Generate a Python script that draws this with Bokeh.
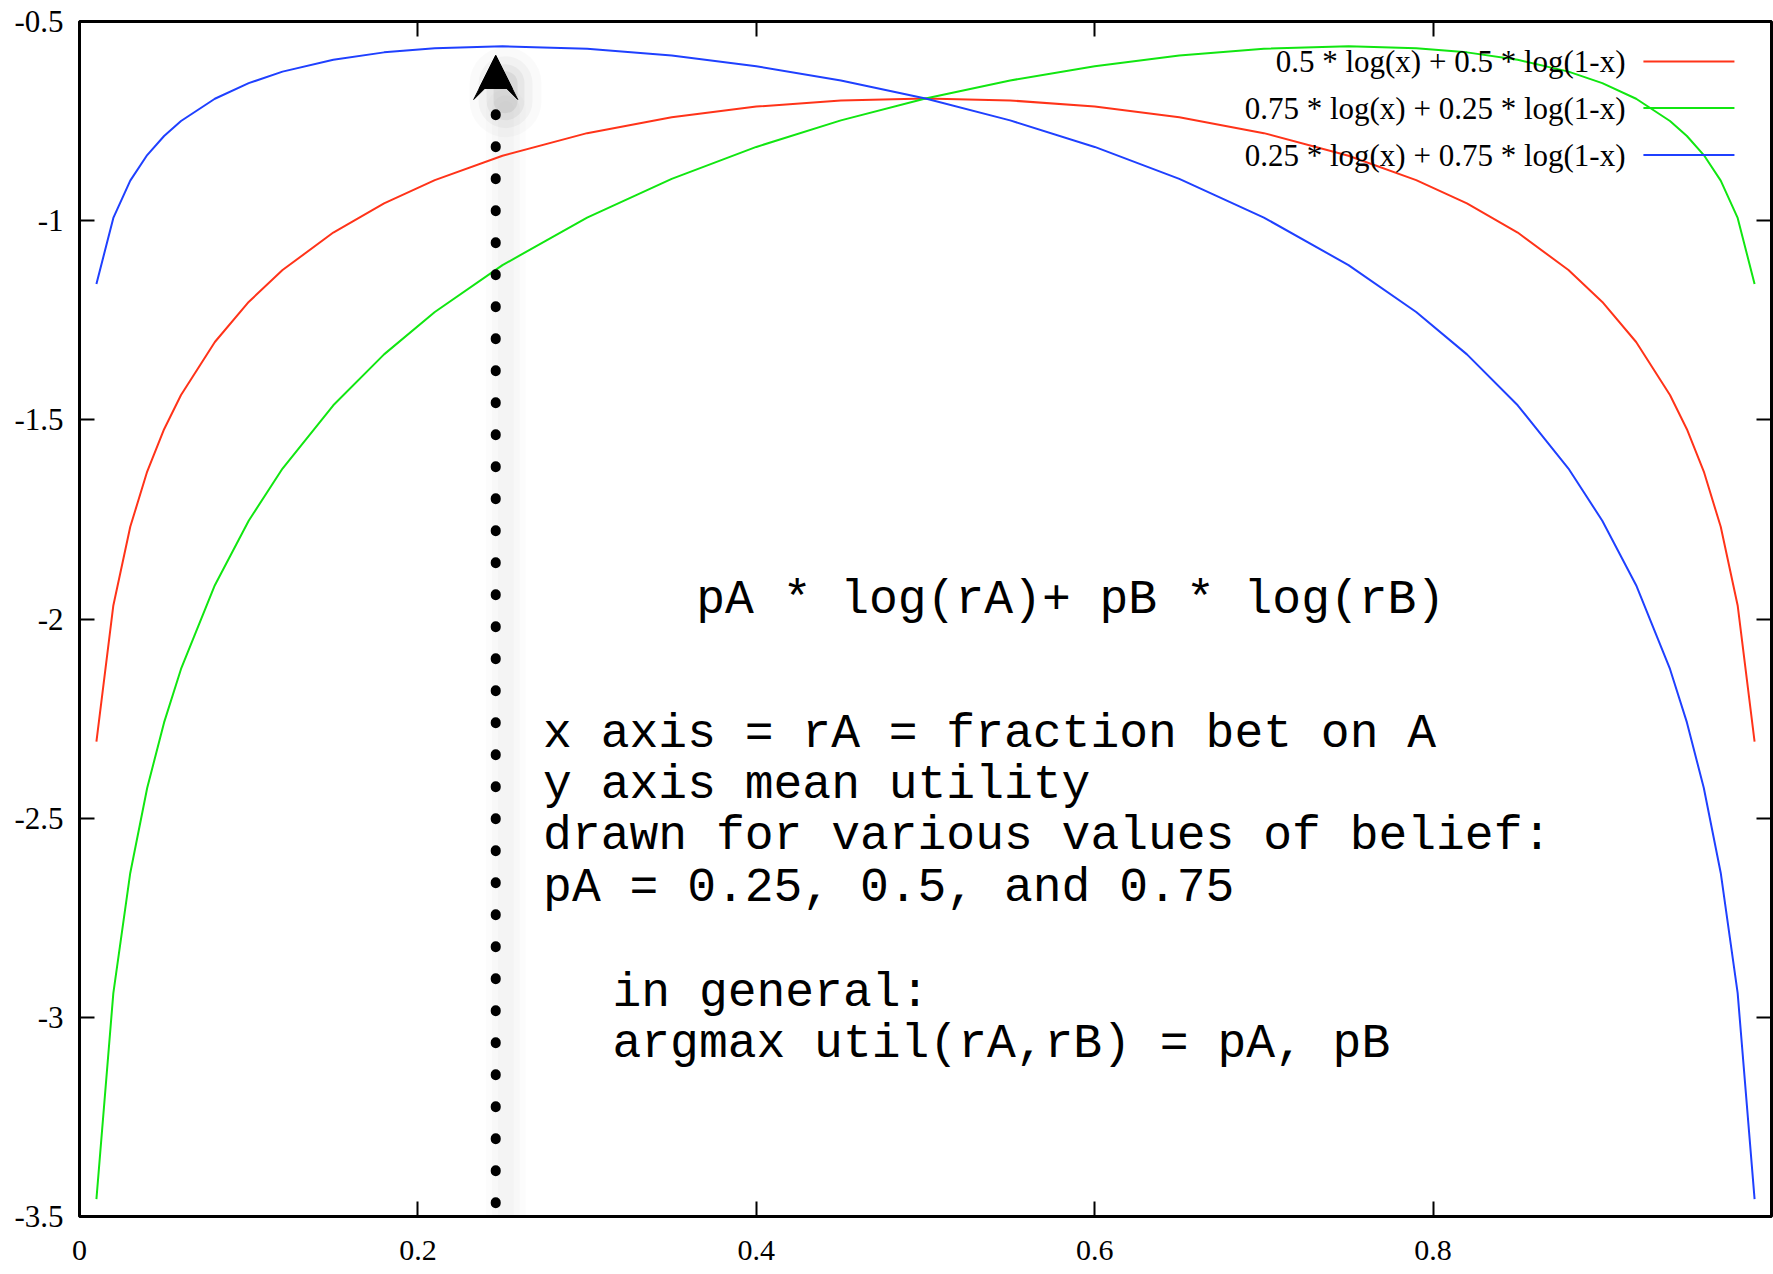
from bokeh.plotting import figure
from bokeh.models import (Range1d, FixedTicker, LinearAxis, Label, Arrow, VeeHead,
                          NormalHead, CustomJSTickFormatter)
from bokeh.embed import file_html
from bokeh.resources import INLINE

# ---- data ----
x_vals = [0.01, 0.02, 0.03, 0.04, 0.05, 0.06, 0.08, 0.10, 0.12, 0.15, 0.18, 0.21,
          0.25, 0.30, 0.35, 0.40, 0.45, 0.50, 0.55, 0.60, 0.65, 0.70, 0.75, 0.79,
          0.82, 0.85, 0.88, 0.90, 0.92, 0.94, 0.95, 0.96, 0.97, 0.98, 0.99]

red_vals = [-2.3076, -1.9661, -1.7685, -1.6299, -1.5235, -1.4376, -1.3046, -1.2040,
            -1.1240, -1.0298, -0.9566, -0.8982, -0.8370, -0.7803, -0.7403, -0.7136,
            -0.6982, -0.6931, -0.6982, -0.7136, -0.7403, -0.7803, -0.8370, -0.8982,
            -0.9566, -1.0298, -1.1240, -1.2040, -1.3046, -1.4376, -1.5235, -1.6299,
            -1.7685, -1.9661, -2.3076]

green_vals = [-3.4564, -2.9391, -2.6375, -2.4244, -2.2596, -2.1255, -1.9152, -1.7533,
              -1.6222, -1.4635, -1.3357, -1.2294, -1.1116, -0.9922, -0.8951, -0.8149,
              -0.7483, -0.6931, -0.6480, -0.6122, -0.5856, -0.5685, -0.5623, -0.5670,
              -0.5775, -0.5962, -0.6259, -0.6547, -0.6940, -0.7498, -0.7874, -0.8353,
              -0.8995, -0.9932, -1.1588]

blue_vals = [-1.1588, -0.9932, -0.8995, -0.8353, -0.7874, -0.7498, -0.6940, -0.6547,
             -0.6259, -0.5962, -0.5775, -0.5670, -0.5623, -0.5685, -0.5856, -0.6122,
             -0.6480, -0.6931, -0.7483, -0.8149, -0.8951, -0.9922, -1.1116, -1.2294,
             -1.3357, -1.4635, -1.6222, -1.7533, -1.9152, -2.1255, -2.2596, -2.4244,
             -2.6375, -2.9391, -3.4564]

series_labels = ["0.5 * log(x) + 0.5 * log(1-x)",
                 "0.75 * log(x) + 0.25 * log(1-x)",
                 "0.25 * log(x) + 0.75 * log(1-x)"]
series_colors = ["#ff3319", "#11e611", "#1f40ff"]

x_ticks = [0, 0.2, 0.4, 0.6, 0.8]
y_ticks = [-3.5, -3, -2.5, -2, -1.5, -1, -0.5]

belief_pA = 0.246           # arrow marks the argmax for pA = 0.25

title_text = "pA * log(rA)+ pB * log(rB)"
block_lines = ["x axis = rA = fraction bet on A",
               "y axis mean utility",
               "drawn for various values of belief:",
               "pA = 0.25, 0.5, and 0.75"]
general_lines = ["in general:",
                 "argmax util(rA,rB) = pA, pB"]

# ---- figure ----
p = figure(width=1773, height=1274,
           x_range=Range1d(0, 1), y_range=Range1d(-3.5, -0.5),
           output_backend="svg", toolbar_location=None,
           min_border_left=79, min_border_right=2,
           min_border_top=21, min_border_bottom=58)
p.xgrid.visible = False
p.ygrid.visible = False
p.outline_line_color = "black"
p.outline_line_width = 3
p.outline_line_alpha = 1.0
p.background_fill_color = "white"
p.border_fill_color = "white"

fmt = CustomJSTickFormatter(code="return tick.toString();")
blank = CustomJSTickFormatter(code="return '';")

def style_axis(ax, ticks, show_labels, standoff, size="31px"):
    ax.ticker = FixedTicker(ticks=ticks)
    ax.formatter = fmt if show_labels else blank
    ax.major_tick_in = 15
    ax.major_tick_out = 0
    ax.minor_tick_in = 0
    ax.minor_tick_out = 0
    ax.major_tick_line_width = 2
    ax.major_tick_line_color = "black"
    ax.axis_line_color = None
    ax.major_label_standoff = standoff
    ax.major_label_text_font = "Liberation Serif"
    ax.major_label_text_color = "black"
    ax.major_label_text_font_size = size if show_labels else "8px"

style_axis(p.xaxis[0], x_ticks, True, 24, "30px")
style_axis(p.yaxis[0], y_ticks, True, 16, "31px")

top_axis = LinearAxis()
style_axis(top_axis, x_ticks, False, 0)
p.add_layout(top_axis, "above")
right_axis = LinearAxis()
style_axis(right_axis, y_ticks, False, 0)
p.add_layout(right_axis, "right")

# ---- curves ----
for ys, c in zip([red_vals, green_vals, blue_vals], series_colors):
    p.line(x_vals, ys, line_color=c, line_width=2)

# ---- key (label on the left, sample line on the right) ----
key_rows_y = [-0.6004, -0.7172, -0.8352]
for lab, c, yy in zip(series_labels, series_colors, key_rows_y):
    p.add_layout(Label(x=0.9137, y=yy, text=lab, text_align="right",
                       text_baseline="middle", text_font="Liberation Serif",
                       text_font_size="31px", text_color="black"))
    p.add_layout(Arrow(x_start=0.9243, y_start=yy, x_end=0.9781, y_end=yy,
                       end=None, line_color=c, line_width=2))

# ---- soft arrow shadow ----
sx = belief_pA + 0.006
for w, a in [(40, 0.012), (28, 0.014), (16, 0.016)]:
    p.add_layout(Arrow(x_start=sx, y_start=-3.55, x_end=sx, y_end=-0.72,
                       end=None, line_color="black", line_alpha=a,
                       line_width=w, line_cap="round", level="underlay"))
hx = belief_pA + 0.0058
for w, a in [(72, 0.02), (54, 0.03), (38, 0.045), (24, 0.06)]:
    p.add_layout(Arrow(x_start=hx, y_start=-0.70, x_end=hx, y_end=-0.655,
                       end=None, line_color="black", line_alpha=a,
                       line_width=w, line_cap="round", level="underlay"))

# ---- dotted arrow ----
p.add_layout(Arrow(x_start=belief_pA, y_start=-3.4666, x_end=belief_pA, y_end=-0.5854,
                   line_color="black", line_width=10, line_dash="1 31",
                   line_cap="round",
                   end=VeeHead(size=44, fill_color="black", line_color="black",
                               line_width=1)))
p.add_layout(Arrow(x_start=belief_pA, y_start=-0.64, x_end=belief_pA, y_end=-0.5854,
                   line_alpha=0, line_width=1,
                   end=NormalHead(size=33, fill_color="black", line_color="black",
                                  line_width=1)))

# ---- annotation text ----
mono = "Liberation Mono"
p.add_layout(Label(x=0.3645, y=-1.9524, text=title_text, text_font=mono,
                   text_font_size="48px", text_baseline="middle", text_color="black"))
for t, yy in zip(block_lines, [-2.2888, -2.4169, -2.5437, -2.6742]):
    p.add_layout(Label(x=0.2740, y=yy, text=t, text_font=mono,
                       text_font_size="48px", text_baseline="middle", text_color="black"))
for t, yy in zip(general_lines, [-2.9381, -3.0659]):
    p.add_layout(Label(x=0.3150, y=yy, text=t, text_font=mono,
                       text_font_size="48px", text_baseline="middle", text_color="black"))

open("out.html", "w").write(file_html(p, INLINE))
